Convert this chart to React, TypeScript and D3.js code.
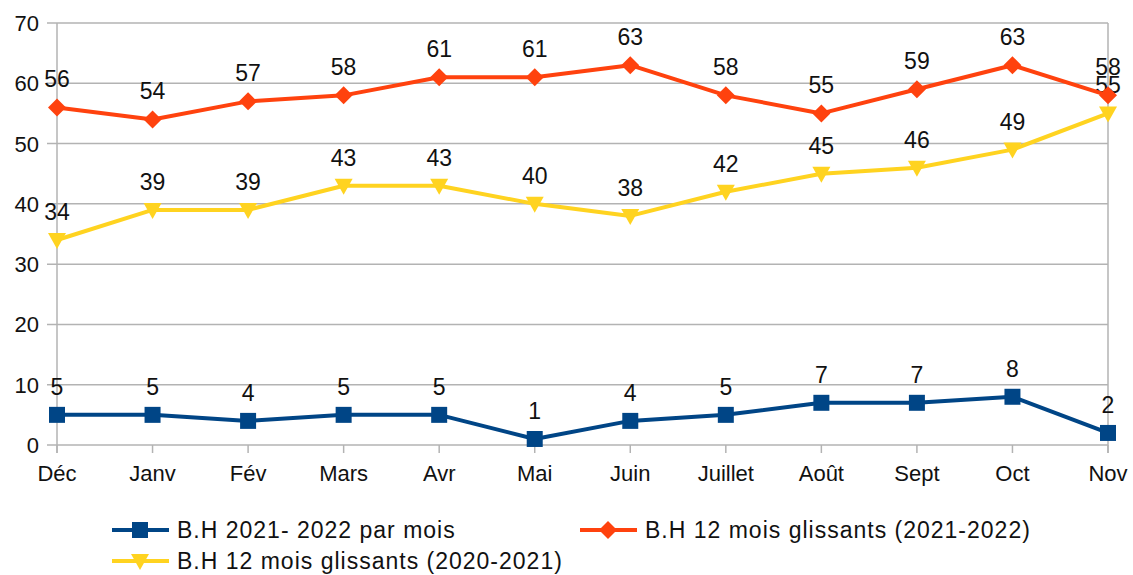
import * as React from "react";
import * as d3 from "d3";

const months = ["Déc", "Janv", "Fév", "Mars", "Avr", "Mai", "Juin", "Juillet", "Août", "Sept", "Oct", "Nov"];
const monthly = [5, 5, 4, 5, 5, 1, 4, 5, 7, 7, 8, 2];
const rolling2122 = [56, 54, 57, 58, 61, 61, 63, 58, 55, 59, 63, 58];
const rolling2021 = [34, 39, 39, 43, 43, 40, 38, 42, 45, 46, 49, 55];
const yTicks = [0, 10, 20, 30, 40, 50, 60, 70];

const BLUE = "#004586";
const ORANGE = "#ff420e";
const YELLOW = "#ffd320";
const GRID = "#b3b3b3";
const FONT = "'Liberation Sans', Arial, sans-serif";

type Marker = "square" | "diamond" | "triangle";

function markerPath(kind: Marker, x: number, y: number) {
    if (kind === "square") return `M${x - 8},${y - 8}h16v16h-16Z`;
    if (kind === "diamond") return `M${x},${y - 9}L${x + 9},${y}L${x},${y + 9}L${x - 9},${y}Z`;
    return `M${x - 9},${y - 7}L${x + 9},${y - 7}L${x},${y + 9}Z`;
}

export default function App() {
    const width = 1133, height = 575;
    const x = d3.scalePoint<string>().domain(months).range([57, 1108]);
    const y = d3.scaleLinear().domain([0, 70]).range([445, 23]);

    const line = d3.line<number>()
        .x((_d, i) => x(months[i]) || 0)
        .y(d => y(d));

    const series: { data: number[], color: string, marker: Marker }[] = [
        { data: rolling2021, color: YELLOW, marker: "triangle" },
        { data: rolling2122, color: ORANGE, marker: "diamond" },
        { data: monthly, color: BLUE, marker: "square" },
    ];

    const legend = [
        { label: "B.H 2021- 2022 par mois", color: BLUE, marker: "square" as Marker, lx: 112, ly: 530 },
        { label: "B.H 12 mois glissants (2021-2022)", color: ORANGE, marker: "diamond" as Marker, lx: 580, ly: 530 },
        { label: "B.H 12 mois glissants (2020-2021)", color: YELLOW, marker: "triangle" as Marker, lx: 112, ly: 561 },
    ];

    return <div style={{ position: "absolute", left: 0, top: 0 }}>
        <svg width={width} height={height} style={{ display: "block", background: "#fff" }} fontFamily={FONT}>
            {yTicks.map(t => <g key={t}>
                <line x1={47} x2={1108} y1={y(t)} y2={y(t)} stroke={GRID} strokeWidth={1.5} />
                <text x={39} y={y(t) + 8} fontSize={22} textAnchor="end" fill="#111">{t}</text>
            </g>)}
            <line x1={57} x2={57} y1={y(70)} y2={453} stroke={GRID} strokeWidth={1.5} />
            <line x1={1108} x2={1108} y1={y(70)} y2={453} stroke={GRID} strokeWidth={1.5} />
            {months.map(m => <g key={m}>
                <line x1={x(m)} x2={x(m)} y1={y(0)} y2={453} stroke={GRID} strokeWidth={1.5} />
                <text x={x(m)} y={481} fontSize={22} textAnchor="middle" fill="#111">{m}</text>
            </g>)}
            {series.map((s, si) => <g key={si}>
                <path d={line(s.data) || ""} fill="none" stroke={s.color} strokeWidth={4} strokeLinejoin="round" />
                {s.data.map((v, i) => <path key={i} d={markerPath(s.marker, x(months[i]) || 0, y(v))} fill={s.color} />)}
                {s.data.map((v, i) => <text key={"t" + i} x={x(months[i])} y={y(v) - 20} fontSize={23} textAnchor="middle" fill="#111">{v}</text>)}
            </g>)}
            {legend.map(l => <g key={l.label}>
                <line x1={l.lx} x2={l.lx + 57} y1={l.ly} y2={l.ly} stroke={l.color} strokeWidth={4} />
                <path d={markerPath(l.marker, l.lx + 28, l.ly)} fill={l.color} />
                <text x={l.lx + 65} y={l.ly + 8} fontSize={23} letterSpacing={1} fill="#111">{l.label}</text>
            </g>)}
        </svg>
    </div>;
}
